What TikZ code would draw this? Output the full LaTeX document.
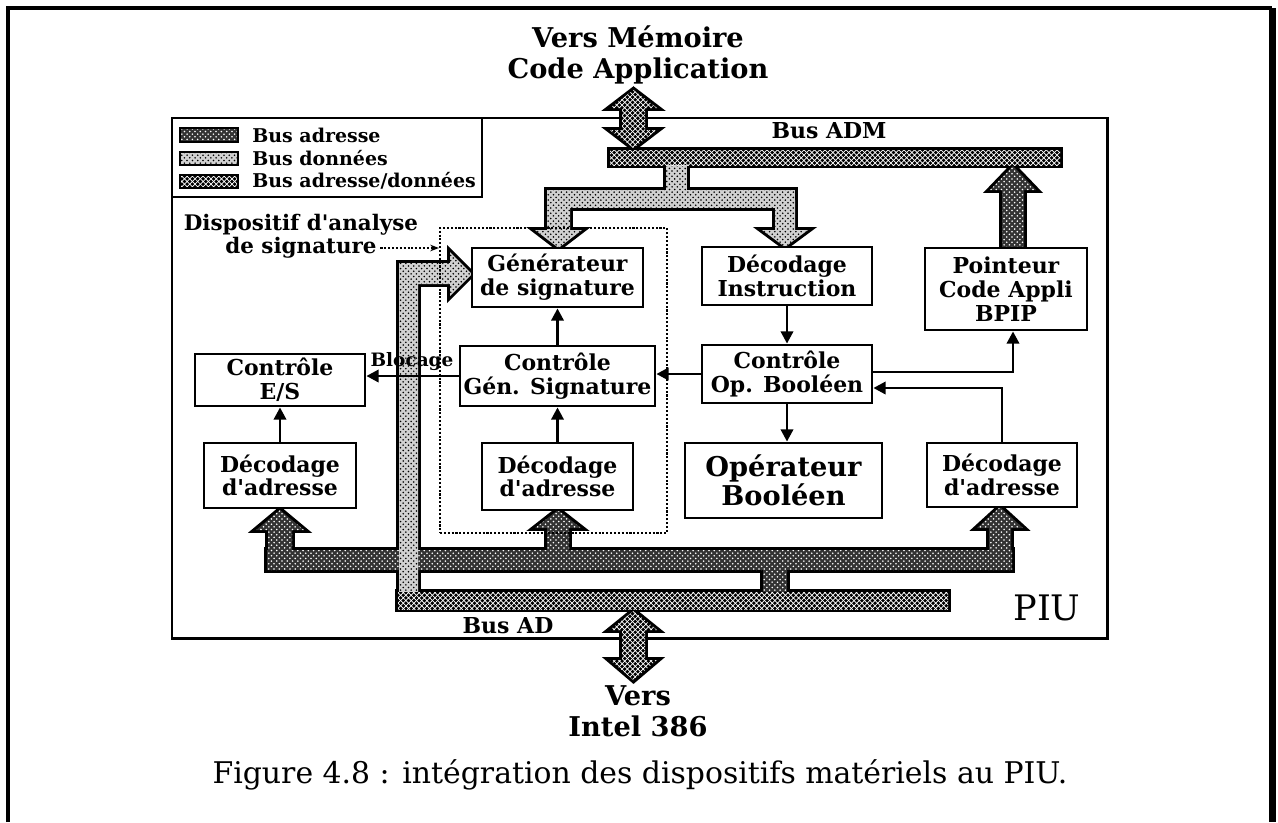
\documentclass[tikz,border=0pt]{standalone}
\usepackage{fontspec}
\setmainfont{DejaVu Serif}
\usetikzlibrary{arrows.meta,patterns}

\newcommand{\apos}{\textquotesingle}

% pieces of the three buses (pixel units)
\newcommand{\addrpieces}{%
  {(267,550) rectangle (1012,570)},%
  {(268,570)--(268,530)--(256,530)--(280,510)--(304,530)--(292,530)--(292,570)--cycle},%
  {(547,570)--(547,528)--(535,528)--(558,510)--(581,528)--(569,528)--(569,570)--cycle},%
  {(989,570)--(989,528)--(977,528)--(1000,507)--(1023,528)--(1011,528)--(1011,570)--cycle},%
  {(763,565) rectangle (787,596)},%
  {(1002,248)--(1002,190)--(990,190)--(1013,166)--(1036,190)--(1024,190)--(1024,248)--cycle}}
\newcommand{\datapieces}{%
  {(666,160) rectangle (687,200)},%
  {(547,190) rectangle (795,208)},%
  {(547,200)--(547,230)--(535,230)--(558.5,248)--(582,230)--(570,230)--(570,200)--cycle},%
  {(775,200)--(775,230)--(762,230)--(785,247)--(808,230)--(795,230)--(795,200)--cycle},%
  {(399,596)--(399,263)--(450,263)--(450,252)--(472,274)--(450,296)--(450,284)--(418,284)--(418,596)--cycle}}
\newcommand{\adpieces}{%
  {(610,150) rectangle (1060,165)},%
  {(398,592) rectangle (948,609)},%
  {(633.5,90)--(657,108)--(645,108)--(645,130)--(657,130)--(633.5,148)--(610,130)--(622,130)--(622,108)--(610,108)--cycle},%
  {(633.5,611)--(657,630)--(645,630)--(645,660)--(657,660)--(633.5,680)--(610,660)--(622,660)--(622,630)--(610,630)--cycle}}

\tikzset{
  box/.style={draw, line width=1.6pt, fill=white, align=center, inner sep=1pt,
    font=\bfseries\fontsize{12.5}{13.5}\selectfont},
  sig/.style={line width=1.6pt, -{Triangle[length=7pt,width=7pt]}},
  busedge/.style={draw, line width=3.4pt},
  addrbus/.style={preaction={fill=black!80}, pattern=crosshatch dots, pattern color=white},
  databus/.style={preaction={fill=black!18}, pattern=crosshatch dots, pattern color=black},
  adbus/.style={preaction={fill=black}, pattern=crosshatch, pattern color=white},
  lbl/.style={font=\bfseries\fontsize{12.2}{13.5}\selectfont},
  leg/.style={font=\bfseries\fontsize{10.8}{12}\selectfont, inner sep=0pt, anchor=west},
}

\begin{document}
\begin{tikzpicture}[x=0.02cm, y=-0.02cm]
\useasboundingbox (0,0) rectangle (1278,822);

% frames
\draw[line width=2.2pt] (8,822) -- (8,8) -- (1272,8);
\draw[line width=4pt] (1272,8) -- (1272,822);
\draw[line width=1.7pt] (172,118) rectangle (1107,638);
\draw[line width=1.7pt] (172,118) rectangle (482,197);

% legend
\draw[line width=1.5pt, addrbus] (180,128) rectangle (238,142);
\draw[line width=1.5pt, databus] (180,152) rectangle (238,165);
\draw[line width=1.5pt, adbus] (180,175) rectangle (238,188);
\node[leg] (lgaddr) at (252,135) {Bus adresse};
\node[leg] (lgdata) at (252,158) {Bus données};
\node[leg] (lgad) at (252,181) {Bus adresse/données};

% buses
\foreach \p in \addrpieces \draw[busedge] \p;
\foreach \p in \datapieces \draw[busedge] \p;
\foreach \p in \adpieces \draw[busedge] \p;
\foreach \p in \addrpieces \fill[addrbus] \p;
\foreach \p in \datapieces \fill[databus] \p;
\foreach \p in \adpieces \fill[adbus] \p;

% blocks
\node[box, minimum width=3.42cm, minimum height=1.18cm] (gen) at (557.5,277.5) {Générateur\\de signature};
\node[box, minimum width=3.9cm, minimum height=1.2cm] (cgs) at (557.5,376) {Contrôle\\Gén. Signature};
\node[box, minimum width=3.02cm, minimum height=1.34cm] (decm) at (557.5,476.5) {Décodage\\d\apos adresse};
\node[box, minimum width=3.4cm, minimum height=1.16cm] (deci) at (787,276) {Décodage\\Instruction};
\node[box, minimum width=3.4cm, minimum height=1.16cm] (cob) at (787,374) {Contrôle\\Op. Booléen};
\node[box, minimum width=3.94cm, minimum height=1.5cm,
      font=\bfseries\fontsize{15.5}{14}\selectfont] (opb) at (783.5,480.5) {Opérateur\\Booléen};
\node[box, minimum width=3.24cm, minimum height=1.64cm] (ptr) at (1006,289) {Pointeur\\Code Appli\\BPIP};
\node[box, minimum width=3.0cm, minimum height=1.28cm] (decr) at (1002,475) {Décodage\\d\apos adresse};
\node[box, minimum width=3.4cm, minimum height=1.04cm] (ces) at (280,380) {Contrôle\\E/S};
\node[box, minimum width=3.04cm, minimum height=1.3cm] (decl) at (280,475.5) {Décodage\\d\apos adresse};

% signals
\draw[sig] (deci) -- (cob);
\draw[sig] (cob.south) -- (cob.south |- opb.north);
\draw[sig] (cob.west) -- (cob.west -| cgs.east);
\draw[sig] ([yshift=0.04cm]cob.east) -| ([xshift=0.14cm]ptr.south);
\draw[sig] (decr.north) |- ([yshift=-0.28cm]cob.east);
\draw[sig] (decm) -- (cgs);
\draw[sig] (cgs) -- (gen);
\draw[sig] (decl) -- (ces);
\draw[sig] (cgs.west) -- (cgs.west -| ces.east);
\node[font=\bfseries\fontsize{10.5}{12}\selectfont, inner sep=0pt] (bloc) at (412,362) {Blocage};

% signature analysis unit
\node[draw, densely dotted, line width=1.2pt, minimum width=4.54cm, minimum height=6.1cm] (dsa) at (553.5,380.5) {};
\node[lbl, inner sep=0pt] (dsa1) at (301,225) {Dispositif d\apos analyse};
\node[lbl, inner sep=0pt] (dsa2) at (301,248) {de signature};
\draw[densely dotted, line width=1.2pt, -{Stealth[length=5pt]}] ([xshift=2pt]dsa2.east) -- (dsa2.east -| dsa.west);

% labels
\node[font=\bfseries\fontsize{15.5}{17.6}\selectfont, align=center] (mem) at (638,55) {Vers Mémoire\\Code Application};
\node[font=\bfseries\fontsize{12.5}{14}\selectfont] (adm) at (829,131) {Bus ADM};
\node[font=\bfseries\fontsize{12.5}{14}\selectfont] (ad) at (508,626) {Bus AD};
\node[font=\fontsize{20}{22}\selectfont] (piu) at (1047,608) {PIU};
\node[font=\bfseries\fontsize{15.5}{17.6}\selectfont, align=center] (intel) at (638,711) {Vers\\Intel 386};
\node[font=\fontsize{17}{19}\selectfont] (cap) at (640,775) {Figure 4.8 : intégration des dispositifs matériels au PIU.};
\end{tikzpicture}
\end{document}
